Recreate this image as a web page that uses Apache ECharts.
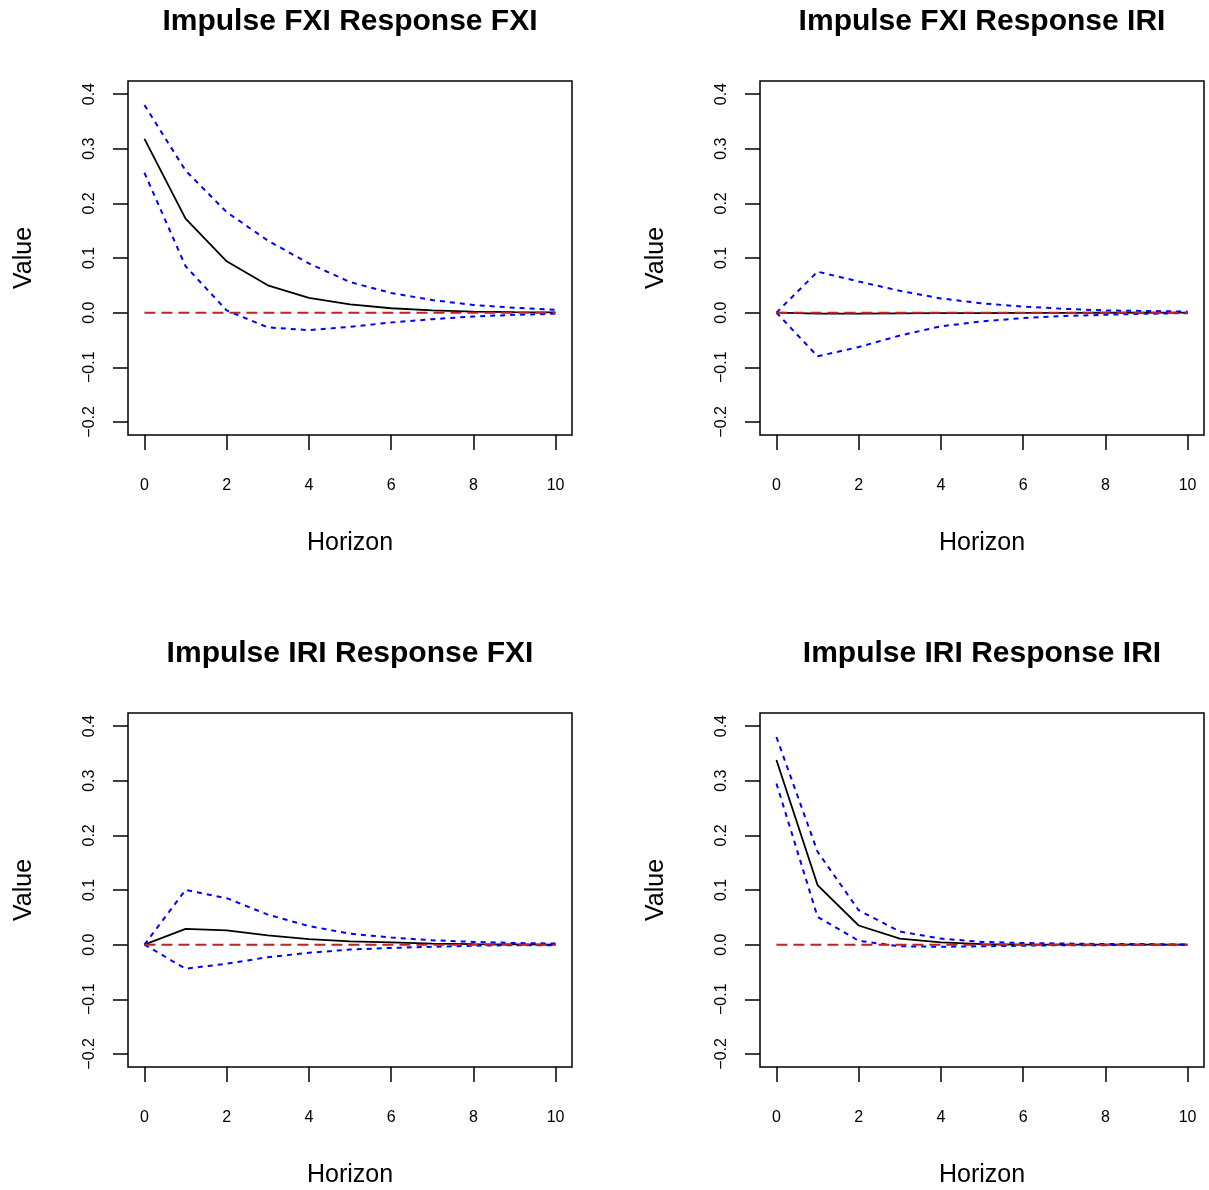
<!DOCTYPE html>
<html>
<head>
<meta charset="utf-8">
<script src="https://cdn.jsdelivr.net/npm/echarts@6/dist/echarts.min.js"></script>
<style>
html,body{margin:0;padding:0;background:#fff;}
#chart{width:1209px;height:1190px;}
</style>
</head>
<body>
<div id="chart"></div>
<script>
// ---- data ----
var horizon = [0, 1, 2, 3, 4, 5, 6, 7, 8, 9, 10];
var xTicks = [0, 2, 4, 6, 8, 10];
var yTicks = [-0.2, -0.1, 0.0, 0.1, 0.2, 0.3, 0.4];
var titles = ["Impulse FXI Response FXI", "Impulse FXI Response IRI",
              "Impulse IRI Response FXI", "Impulse IRI Response IRI"];

// Impulse FXI -> Response FXI
var irfFxiFxi   = [0.318, 0.172, 0.094, 0.050, 0.027, 0.015, 0.008, 0.004, 0.002, 0.001, 0.0005];
var upperFxiFxi = [0.380, 0.260, 0.184, 0.132, 0.090, 0.056, 0.036, 0.023, 0.014, 0.009, 0.005];
var lowerFxiFxi = [0.256, 0.085, 0.004, -0.027, -0.032, -0.026, -0.018, -0.012, -0.007, -0.004, -0.002];

// Impulse FXI -> Response IRI
var irfFxiIri   = [0.0, -0.002, -0.002, -0.0015, -0.001, -0.0008, -0.0005, -0.0003, -0.0002, -0.0001, 0.0];
var upperFxiIri = [0.0, 0.075, 0.057, 0.040, 0.026, 0.017, 0.011, 0.007, 0.004, 0.003, 0.002];
var lowerFxiIri = [0.0, -0.080, -0.063, -0.042, -0.025, -0.016, -0.010, -0.006, -0.004, -0.002, -0.001];

// Impulse IRI -> Response FXI
var irfIriFxi   = [0.0, 0.029, 0.026, 0.017, 0.010, 0.006, 0.004, 0.002, 0.001, 0.0005, 0.0];
var upperIriFxi = [0.0, 0.100, 0.085, 0.055, 0.034, 0.020, 0.013, 0.008, 0.005, 0.003, 0.002];
var lowerIriFxi = [0.0, -0.044, -0.035, -0.023, -0.015, -0.009, -0.006, -0.004, -0.002, -0.001, -0.001];

// Impulse IRI -> Response IRI
var irfIriIri   = [0.338, 0.109, 0.035, 0.011, 0.004, 0.001, 0.0, 0.0, 0.0, 0.0, 0.0];
var upperIriIri = [0.380, 0.170, 0.063, 0.024, 0.011, 0.005, 0.003, 0.002, 0.001, 0.001, 0.0];
var lowerIriIri = [0.295, 0.051, 0.007, -0.003, -0.004, -0.003, -0.002, -0.001, -0.001, 0.0, 0.0];

var zeroLine = [0, 0, 0, 0, 0, 0, 0, 0, 0, 0, 0];

var panels = [
  {irf: irfFxiFxi, up: upperFxiFxi, lo: lowerFxiFxi},
  {irf: irfFxiIri, up: upperFxiIri, lo: lowerFxiIri},
  {irf: irfIriFxi, up: upperIriFxi, lo: lowerIriFxi},
  {irf: irfIriIri, up: upperIriIri, lo: lowerIriIri}
];

// ---- layout ----
var FONT = "Liberation Sans, Arial, Helvetica, sans-serif";
var boxes = [
  {left: 128, top: 81},
  {left: 760, top: 81},
  {left: 128, top: 713},
  {left: 760, top: 713}
];
var BW = 444, BH = 354;

function pairs(arr) {
  return horizon.map(function (h, i) { return [h, arr[i]]; });
}
function fmtY(v) {
  var s = Math.abs(v).toFixed(1);
  return (v < -1e-9 ? "\u2212" : "") + s;
}

var option = {
  backgroundColor: "#ffffff",
  animation: false,
  textStyle: {fontFamily: FONT},
  title: [], grid: [], xAxis: [], yAxis: [], series: []
};

boxes.forEach(function (b, k) {
  option.title.push({
    text: titles[k],
    left: b.left + BW / 2,
    top: b.top - 74,
    textAlign: "center",
    padding: 0,
    textStyle: {fontFamily: FONT, fontWeight: "bold", fontSize: 30, color: "#000"}
  });
  option.grid.push({
    left: b.left, top: b.top, width: BW, height: BH,
    show: true, borderColor: "#000", borderWidth: 1.5, backgroundColor: "transparent",
    outerBoundsMode: "none"
  });
  option.xAxis.push({
    type: "value", gridIndex: k, min: -0.4, max: 10.4,
    name: "Horizon", nameLocation: "middle", nameGap: 96,
    nameTextStyle: {fontFamily: FONT, fontSize: 25, color: "#000"},
    axisLine: {show: false, onZero: false},
    splitLine: {show: false},
    axisTick: {show: true, inside: false, length: 15, customValues: xTicks,
               lineStyle: {color: "#000", width: 1.5}},
    axisLabel: {show: true, margin: 43, customValues: xTicks, fontSize: 16,
                fontFamily: FONT, color: "#000"}
  });
  option.yAxis.push({
    type: "value", gridIndex: k, min: -0.224, max: 0.424,
    name: "Value", nameLocation: "middle", nameGap: 91, nameRotate: 90,
    nameTextStyle: {fontFamily: FONT, fontSize: 25, color: "#000"},
    axisLine: {show: false, onZero: false},
    splitLine: {show: false},
    axisTick: {show: true, inside: false, length: 15, customValues: yTicks,
               lineStyle: {color: "#000", width: 1.5}},
    axisLabel: {show: true, margin: 30, rotate: 90, customValues: yTicks, fontSize: 16,
                fontFamily: FONT, color: "#000", formatter: fmtY}
  });
  var p = panels[k];
  option.series.push({
    type: "line", xAxisIndex: k, yAxisIndex: k, data: pairs(p.irf),
    showSymbol: false, symbol: "none", silent: true,
    lineStyle: {color: "#000", width: 1.8}
  });
  option.series.push({
    type: "line", xAxisIndex: k, yAxisIndex: k, data: pairs(p.up),
    showSymbol: false, symbol: "none", silent: true,
    lineStyle: {color: "#0000ff", width: 2, type: [5, 5]}
  });
  option.series.push({
    type: "line", xAxisIndex: k, yAxisIndex: k, data: pairs(p.lo),
    showSymbol: false, symbol: "none", silent: true,
    lineStyle: {color: "#0000ff", width: 2, type: [5, 5]}
  });
  option.series.push({
    type: "line", xAxisIndex: k, yAxisIndex: k, data: pairs(zeroLine),
    showSymbol: false, symbol: "none", silent: true,
    lineStyle: {color: "#bb2525", width: 2, type: [11, 6]}
  });
});

var chart = echarts.init(document.getElementById("chart"), null, {renderer: "canvas"});
chart.setOption(option);
</script>
</body>
</html>
